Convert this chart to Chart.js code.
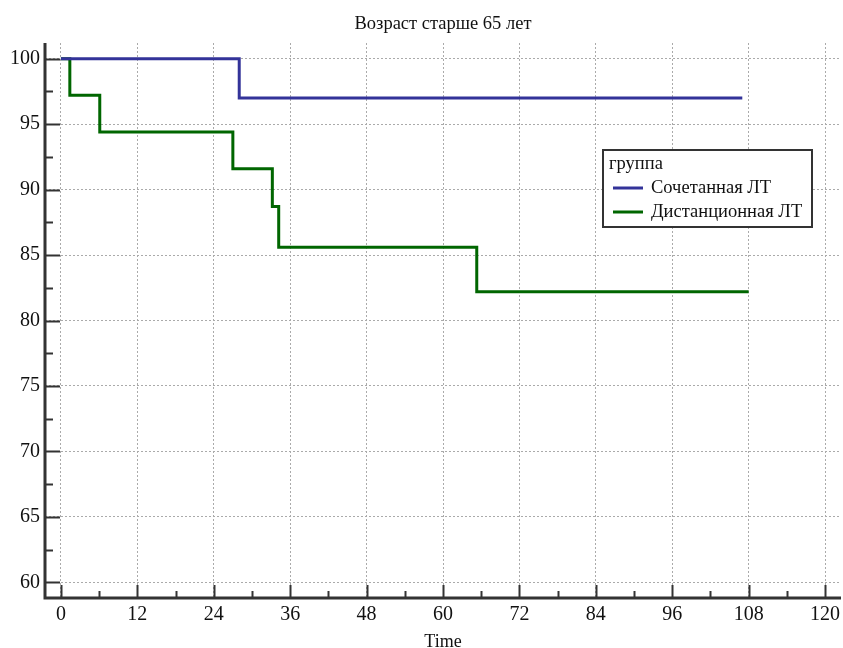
<!DOCTYPE html>
<html>
<head>
<meta charset="utf-8">
<script src="https://cdn.jsdelivr.net/npm/chart.js@4/dist/chart.umd.min.js"></script>
<style>
  html, body { margin: 0; padding: 0; background: #fff; }
  #wrap { width: 843px; height: 648px; }
</style>
</head>
<body>
<div id="wrap"><canvas id="km" width="843" height="648"></canvas></div>
<script>
// --- DATA ---
const chartTitle = 'Возраст старше 65 лет';
const legendTitle = 'группа';
const groupNames = ['Сочетанная ЛТ', 'Дистанционная ЛТ'];
const groupColors = ['#333399', '#006600'];

// survival curves (months, %)
const combinedTimes = [0, 28, 107];
const combinedSurv = [100, 97.0, 97.0];
const externalTimes = [0, 1.4, 6.1, 27, 33.2, 34.2, 65.3, 108];
const externalSurv = [100, 97.2, 94.4, 91.6, 88.7, 85.6, 82.2, 82.2];

// axis ticks
const xTicks = [0, 12, 24, 36, 48, 60, 72, 84, 96, 108, 120];
const xMinorTicks = [6, 18, 30, 42, 54, 66, 78, 90, 102, 114];
const yTicks = [60, 65, 70, 75, 80, 85, 90, 95, 100];
const yMinorTicks = [62.5, 67.5, 72.5, 77.5, 82.5, 87.5, 92.5, 97.5];

const serif = '"Liberation Serif", "DejaVu Serif", serif';
const axisColor = '#333';

function toPoints(times, values) {
  return times.map((t, i) => ({ x: t, y: values[i] }));
}

// axis lines, inward tick marks, title and the boxed legend
const decorPlugin = {
  id: 'decor',
  afterDraw(chart) {
    const ctx = chart.ctx;
    const area = chart.chartArea;
    const xs = chart.scales.x;
    const ys = chart.scales.y;

    ctx.save();
    ctx.strokeStyle = axisColor;
    ctx.lineCap = 'butt';

    // y ticks
    ctx.lineWidth = 2;
    yTicks.forEach(v => {
      const y = Math.round(ys.getPixelForValue(v)) + 0.5;
      ctx.beginPath(); ctx.moveTo(area.left, y); ctx.lineTo(area.left + 15, y); ctx.stroke();
    });
    yMinorTicks.forEach(v => {
      const y = Math.round(ys.getPixelForValue(v)) + 0.5;
      ctx.beginPath(); ctx.moveTo(area.left, y); ctx.lineTo(area.left + 8, y); ctx.stroke();
    });
    // x ticks
    xTicks.forEach(v => {
      const x = Math.round(xs.getPixelForValue(v)) + 0.5;
      ctx.beginPath(); ctx.moveTo(x, area.bottom); ctx.lineTo(x, area.bottom - 13); ctx.stroke();
    });
    xMinorTicks.forEach(v => {
      const x = Math.round(xs.getPixelForValue(v)) + 0.5;
      ctx.beginPath(); ctx.moveTo(x, area.bottom); ctx.lineTo(x, area.bottom - 7); ctx.stroke();
    });

    // axis lines
    ctx.lineWidth = 3;
    ctx.beginPath();
    ctx.moveTo(area.left, area.top);
    ctx.lineTo(area.left, area.bottom);
    ctx.lineTo(area.right, area.bottom);
    ctx.stroke();

    // title
    ctx.fillStyle = '#111';
    ctx.font = '18.5px ' + serif;
    ctx.textAlign = 'center';
    ctx.textBaseline = 'middle';
    ctx.fillText(chartTitle, (area.left + area.right) / 2, 24);

    // legend
    const lx = 603, ly = 150, lw = 209, lh = 77;
    ctx.fillStyle = '#fff';
    ctx.fillRect(lx, ly, lw, lh);
    ctx.lineWidth = 2;
    ctx.strokeStyle = axisColor;
    ctx.strokeRect(lx, ly, lw, lh);
    ctx.font = '18.5px ' + serif;
    ctx.textAlign = 'left';
    ctx.fillStyle = '#111';
    ctx.fillText(legendTitle, lx + 6, ly + 14);
    chart.data.datasets.forEach((ds, i) => {
      const y = ly + 38 + i * 24;
      ctx.strokeStyle = ds.borderColor;
      ctx.lineWidth = 3;
      ctx.beginPath(); ctx.moveTo(lx + 10, y); ctx.lineTo(lx + 40, y); ctx.stroke();
      ctx.fillStyle = '#111';
      ctx.fillText(ds.label, lx + 48, y);
    });
    ctx.restore();
  }
};

new Chart(document.getElementById('km'), {
  type: 'line',
  data: {
    datasets: [
      {
        label: groupNames[0],
        data: toPoints(combinedTimes, combinedSurv),
        borderColor: groupColors[0],
        borderWidth: 3,
        stepped: 'before',
        pointRadius: 0,
        fill: false
      },
      {
        label: groupNames[1],
        data: toPoints(externalTimes, externalSurv),
        borderColor: groupColors[1],
        borderWidth: 3,
        stepped: 'before',
        pointRadius: 0,
        fill: false
      }
    ]
  },
  options: {
    responsive: false,
    animation: false,
    layout: { padding: { top: 43, right: 2, left: 0, bottom: 0 } },
    plugins: {
      legend: { display: false },
      title: { display: false },
      tooltip: { enabled: false }
    },
    scales: {
      x: {
        type: 'linear',
        min: -2.5,
        max: 122.5,
        afterBuildTicks: scale => { scale.ticks = xTicks.map(v => ({ value: v })); },
        afterFit: scale => {
          scale.height = 50;
          scale.paddingLeft = 0;
          scale.paddingRight = 0;
        },
        ticks: { color: '#111', font: { family: serif, size: 20 }, padding: 5, maxRotation: 0 },
        grid: { color: '#aaa', lineWidth: 1, drawTicks: false },
        border: { display: false, dash: [2, 2] },
        title: { display: true, text: 'Time', color: '#111', font: { family: serif, size: 18, lineHeight: 1 }, padding: { top: 0, bottom: -3 } }
      },
      y: {
        type: 'linear',
        min: 58.8,
        max: 101.2,
        afterBuildTicks: scale => { scale.ticks = yTicks.map(v => ({ value: v })); },
        afterFit: scale => { scale.width = 45; },
        ticks: { color: '#111', font: { family: serif, size: 20 }, padding: 5 },
        grid: { color: '#aaa', lineWidth: 1, drawTicks: false },
        border: { display: false, dash: [2, 2] }
      }
    }
  },
  plugins: [decorPlugin]
});
</script>
</body>
</html>
